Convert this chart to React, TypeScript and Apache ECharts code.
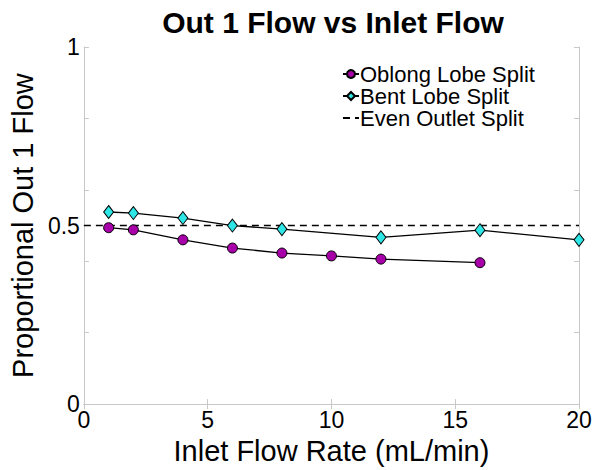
import React, { useEffect, useRef } from "react";
import * as echarts from "echarts";

const titleText = "Out 1 Flow vs Inlet Flow";
const xAxisName = "Inlet Flow Rate (mL/min)";
const yAxisName = "Proportional Out 1 Flow";

const oblongX = [1, 2, 4, 6, 8, 10, 12, 16];
const oblongY = [0.494, 0.488, 0.46, 0.437, 0.423, 0.415, 0.406, 0.396];

const bentX = [1, 2, 4, 6, 8, 12, 16, 20];
const bentY = [0.538, 0.535, 0.521, 0.5, 0.49, 0.467, 0.487, 0.46];

const evenX = [0, 20];
const evenY = [0.5, 0.5];

const seriesNames = ["Oblong Lobe Split", "Bent Lobe Split", "Even Outlet Split"];

const FONT = "'Liberation Sans', Arial, Helvetica, sans-serif";
const AXIS_GRAY = "#c8c8c8";

export default function App() {
  const ref = useRef<HTMLDivElement>(null);
  useEffect(() => {
    if (!ref.current) return;
    const chart = echarts.init(ref.current, undefined, { renderer: "svg" });
    const pair = (xs: number[], ys: number[]) => xs.map((x, i) => [x, ys[i]]);
    const baseX = {
      type: "value" as const,
      min: 0,
      max: 20,
      interval: 5,
      splitLine: { show: false },
    };
    const baseY = {
      type: "value" as const,
      min: 0,
      max: 1,
      splitLine: { show: false },
    };
    chart.setOption({
      animation: false,
      backgroundColor: "#ffffff",
      title: {
        text: titleText,
        left: 328,
        textAlign: "center",
        top: 2,
        textStyle: { fontFamily: FONT, fontSize: 30, fontWeight: "bold", color: "#000" },
      },
      grid: { left: 81, right: 18, top: 47, bottom: 59, containLabel: false },
      legend: {
        orient: "vertical",
        left: 337,
        top: 58,
        itemWidth: 16,
        itemHeight: 10,
        itemGap: 0,
        data: [
          { name: seriesNames[0] },
          { name: seriesNames[1] },
          { name: seriesNames[2], itemStyle: { opacity: 0 } },
        ],
        textStyle: { fontFamily: FONT, fontSize: 22, color: "#000", lineHeight: 21, padding: [0, 0, 0, -4] },
      },
      xAxis: [
        {
          ...baseX,
          position: "bottom",
          name: xAxisName,
          nameLocation: "middle",
          nameGap: 30,
          nameTextStyle: { fontFamily: FONT, fontSize: 29, color: "#000" },
          axisLine: { show: true, lineStyle: { color: AXIS_GRAY, width: 1 } },
          axisTick: { show: true, inside: true, length: 5, lineStyle: { color: AXIS_GRAY } },
          axisLabel: { fontFamily: FONT, fontSize: 23, color: "#000", margin: 4 },
        },
        {
          ...baseX,
          position: "top",
          axisLine: { show: true, lineStyle: { color: AXIS_GRAY, width: 1 } },
          axisTick: { show: true, inside: true, length: 5, lineStyle: { color: AXIS_GRAY } },
          axisLabel: { show: false },
        },
      ],
      yAxis: [
        {
          ...baseY,
          interval: 0.5,
          position: "left",
          name: yAxisName,
          nameLocation: "middle",
          nameGap: 41,
          nameRotate: 90,
          nameTextStyle: { fontFamily: FONT, fontSize: 29, color: "#000" },
          axisLine: { show: true, lineStyle: { color: AXIS_GRAY, width: 1 } },
          axisTick: { show: false },
          axisLabel: {
            fontFamily: FONT,
            fontSize: 23,
            color: "#000",
            margin: 4,
            formatter: (v: number) => (v === 0.5 ? "0.5" : String(v)),
          },
        },
        {
          ...baseY,
          interval: 0.2,
          position: "left",
          axisLine: { show: false },
          axisTick: { show: true, inside: true, length: 5, lineStyle: { color: AXIS_GRAY } },
          axisLabel: { show: false },
        },
        {
          ...baseY,
          interval: 0.2,
          position: "right",
          axisLine: { show: true, lineStyle: { color: AXIS_GRAY, width: 1 } },
          axisTick: { show: true, inside: true, length: 5, lineStyle: { color: AXIS_GRAY } },
          axisLabel: { show: false },
        },
      ],
      series: [
        {
          name: seriesNames[2],
          type: "line",
          data: pair(evenX, evenY),
          symbol: "none",
          lineStyle: { color: "#000", width: 1.5, type: [7, 5] },
          itemStyle: { color: "#000" },
          z: 1,
        },
        {
          name: seriesNames[0],
          type: "line",
          data: pair(oblongX, oblongY),
          symbol: "circle",
          symbolSize: 10,
          lineStyle: { color: "#000", width: 1.3 },
          itemStyle: { color: "#a800a8", borderColor: "#000", borderWidth: 1 },
          z: 3,
        },
        {
          name: seriesNames[1],
          type: "line",
          data: pair(bentX, bentY),
          symbol: "diamond",
          symbolSize: [10, 13],
          lineStyle: { color: "#000", width: 1.3 },
          itemStyle: { color: "#2ee6e6", borderColor: "#000", borderWidth: 1 },
          z: 3,
        },
      ],
    });
    return () => chart.dispose();
  }, []);
  return (
    <div
      ref={ref}
      style={{ position: "absolute", left: 0, top: 0, width: 597, height: 470 }}
    />
  );
}
